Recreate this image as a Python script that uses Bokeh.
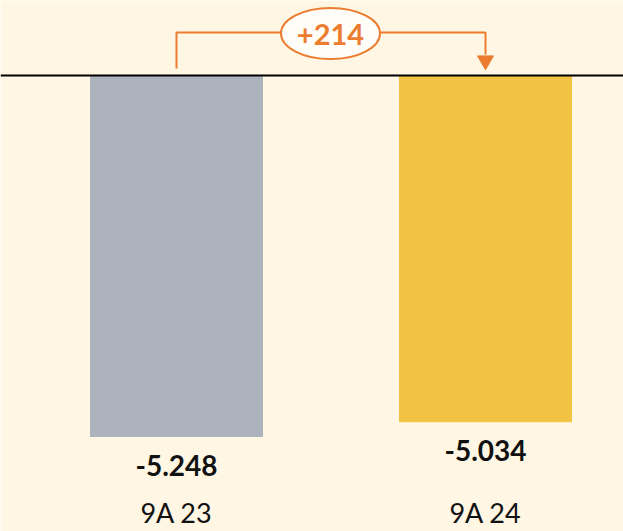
from bokeh.plotting import figure
from bokeh.models import ColumnDataSource, Range1d, Span
from bokeh.core.properties import value
from bokeh.embed import file_html
from bokeh.resources import INLINE

categories = ["9A 23", "9A 24"]
values = [-5248, -5034]
value_labels = ["-5.248", "-5.034"]
bar_colors = ["#ADB3BC", "#F2C342"]
delta = values[1] - values[0]
delta_label = "+%d" % delta

BG = "#FFF7E4"
ORANGE = "#EC7C30"
FONT = "Lato"

W, H = 623, 531
px_per_x = 309.0
px_per_y = 361.0 / 5248.0
x0 = -176.0 / px_per_x
y_top = 75.0 / px_per_y
y_bot = -(H - 75.0) / px_per_y

p = figure(width=W, height=H, output_backend="svg", toolbar_location=None,
           x_range=Range1d(x0, x0 + W / px_per_x), y_range=Range1d(y_bot, y_top),
           min_border=0, background_fill_color=BG, border_fill_color=BG)
p.axis.visible = False
p.grid.visible = False
p.outline_line_color = None

xs = list(range(len(categories)))
src = ColumnDataSource(dict(x=xs, top=[0, 0], bottom=values, color=bar_colors,
                            vlab=value_labels, cat=categories))
p.vbar(x="x", width=172 / px_per_x, top="top", bottom="bottom", color="color", source=src)

p.add_layout(Span(location=0, dimension="width", line_color="black", line_width=2))

p.text(x="x", y="bottom", text="vlab", source=src, y_offset=29,
       text_align="center", text_baseline="middle", text_font=value(FONT),
       text_font_style="bold", text_font_size="28px", text_color="#111111")

cat_y = -(512 - 75) / px_per_y
p.text(x="x", y=cat_y, text="cat", source=src,
       text_align="center", text_baseline="middle", text_font=value(FONT),
       text_font_size="27px", text_color="#111111")

# bracket
ly = (75 - 32) / px_per_y
tip_y = (75 - 68) / px_per_y
head_y = (75 - 54) / px_per_y
cx = (330 - 176) / px_per_x
p.line(x=[xs[0], xs[0], cx], y=[tip_y, ly, ly], line_color=ORANGE, line_width=2)
p.line(x=[cx, xs[1], xs[1]], y=[ly, ly, head_y], line_color=ORANGE, line_width=2)
p.scatter(x=[xs[1]], y=[(75 - 60) / px_per_y], marker="inverted_triangle", size=16,
          fill_color=ORANGE, line_color=ORANGE)
p.ellipse(x=[cx], y=[(75 - 33) / px_per_y], width=99, height=51,
          width_units="screen", height_units="screen",
          fill_color="#FFFDF8", line_color=ORANGE, line_width=2)
p.text(x=[cx], y=[(75 - 34) / px_per_y], text=[delta_label], text_align="center",
       text_baseline="middle", text_font=value(FONT), text_font_style="bold",
       text_font_size="29px", text_color=ORANGE)

open("out.html", "w").write(file_html(p, INLINE))
